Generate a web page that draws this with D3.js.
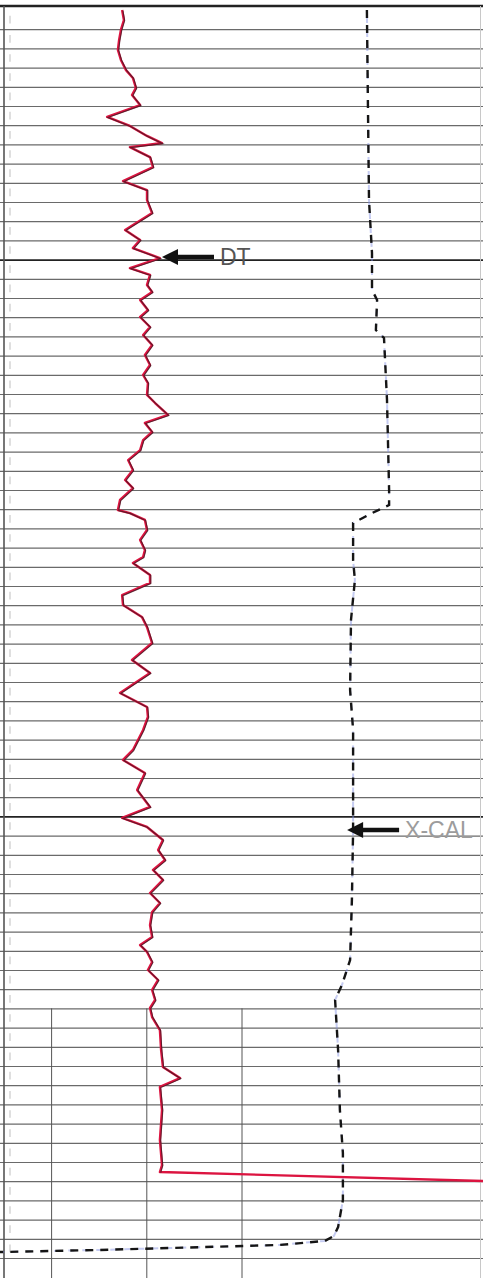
<!DOCTYPE html>
<html>
<head>
<meta charset="utf-8">
<script src="https://cdn.jsdelivr.net/npm/d3@7"></script>
<style>
  html, body { margin: 0; padding: 0; background: #fff; }
  svg { display: block; }
</style>
</head>
<body>
<div id="log"></div>
<script>
// depth grid (ft), one line every 10 ft, heavier lines at two marker depths
const gridDepths = d3.range(5010, 5651, 10)
const majorDepths = [5130, 5420]
const lowerGridTicks = [1, 3, 5]   // track divisions drawn only in the lowest interval
const lowerGridTop = 5520

// sonic (DT, us/ft)
const dtDepth = [5000, 5005.2, 5010.4, 5015.6, 5020.8, 5026.0, 5031.3, 5035.4, 5040.6, 5044.3,
  5049.5, 5055.7, 5060.4, 5065.6, 5069.3, 5071.4, 5076.6, 5081.8, 5089.1, 5093.8,
  5099.0, 5105.7, 5114.6, 5119.8, 5124.0, 5129.2, 5134.4, 5138.0, 5143.2, 5146.9,
  5151.0, 5156.3, 5159.9, 5165.1, 5169.3, 5174.5, 5179.7, 5184.9, 5190.1, 5194.3,
  5200.5, 5204.7, 5210.9, 5215.1, 5219.8, 5224.0, 5229.2, 5234.4, 5239.6, 5244.8,
  5249.0, 5255.2, 5260.4, 5262.0, 5265.6, 5270.8, 5276.0, 5281.3, 5284.9, 5288.0,
  5294.3, 5298.4, 5304.7, 5309.9, 5316.1, 5321.4, 5329.7, 5338.5, 5345.3, 5355.7,
  5363.0, 5368.2, 5375.0, 5385.4, 5390.6, 5397.4, 5406.3, 5415.1, 5420.8, 5425.5,
  5432.3, 5437.5, 5442.7, 5447.9, 5453.1, 5459.9, 5465.1, 5469.8, 5476.6, 5482.8,
  5487.0, 5490.6, 5495.8, 5500.0, 5505.2, 5510.4, 5515.6, 5519.8, 5524.5, 5531.3,
  5541.7, 5550.5, 5556.3, 5560.9, 5572.9, 5588.5, 5601.6, 5605.2, 5609.9]
const dtValues = [120.3, 119.7, 120.7, 121.3, 121.7, 120.7, 119.0, 116.7, 115.7, 117.0,
  114.3, 125.3, 117.7, 112.0, 107.0, 117.7, 111.0, 110.0, 120.0, 112.0,
  112.0, 110.3, 119.3, 114.3, 116.7, 107.7, 117.7, 111.0, 112.0, 110.3,
  114.3, 111.7, 114.3, 111.0, 113.3, 110.3, 112.7, 111.0, 113.3, 111.7,
  112.0, 109.3, 105.0, 112.7, 110.3, 113.3, 114.3, 118.3, 116.7, 119.3,
  116.7, 121.0, 121.7, 117.7, 112.7, 112.0, 114.3, 112.7, 113.3, 116.7,
  111.0, 111.0, 120.3, 120.0, 113.7, 112.0, 110.3, 117.0, 111.0, 121.0,
  112.0, 111.7, 113.3, 116.7, 120.0, 112.7, 115.3, 111.0, 120.3, 112.0,
  106.7, 108.3, 106.0, 110.0, 106.7, 111.0, 107.7, 110.3, 111.0, 110.3,
  114.3, 112.0, 110.3, 111.7, 108.3, 110.3, 109.3, 111.0, 110.3, 107.7,
  107.3, 106.7, 101.0, 107.7, 107.0, 107.7, 107.0, 107.7, 0]

// caliper (in)
const calDepth = [5000, 5057.3, 5099.0, 5126.6, 5145.8, 5151.0, 5166.7, 5170.8, 5203.1, 5250.0,
  5257.8, 5262.0, 5267.2, 5286.5, 5296.9, 5317.7, 5354.2, 5375.0, 5427.1, 5463.5,
  5494.8, 5507.8, 5515.6, 5541.7, 5572.9, 5595.3, 5619.8, 5633.9, 5638.5, 5641.1,
  5643.2, 5645.8, 5646.9]
const calValues = [18.23, 18.27, 18.3, 18.4, 18.4, 18.57, 18.53, 18.8, 18.9, 18.97,
  18.97, 18.4, 17.77, 17.77, 17.83, 17.7, 17.67, 17.77, 17.77, 17.73,
  17.67, 17.4, 17.17, 17.27, 17.33, 17.43, 17.43, 17.27, 17.13, 16.83,
  15.33, 9.33, 6.0]

const curveNames = ['DT', 'X-CAL']
const curveLabelDepth = [5128.6, 5427.1]
const curveLabelValue = [107.0, 17.57]

const width = 483
const height = 1278

const svg = d3.select('#log').append('svg')
    .attr('width', width)
    .attr('height', height)

const yScale = d3.scaleLinear().domain([5000, 5650]).range([10, 1258])
const dtScale = d3.scaleLinear().domain([161, 0]).range([0, 483])
const calScale = d3.scaleLinear().domain([6, 22]).range([0, 480])
const trackScale = d3.scaleLinear().domain([0, 10]).range([4, 480])

// faint left-edge depth marks
svg.append('g')
    .selectAll('line')
    .data(gridDepths)
    .enter()
    .append('line')
    .attr('x1', 10).attr('x2', 10)
    .attr('y1', d => yScale(d - 7))
    .attr('y2', d => yScale(d - 3))
    .style('stroke', '#d4d4d4')
    .style('stroke-width', 1.5)

// horizontal depth lines via an axis
const gridAxis = d3.axisRight(yScale)
    .tickValues(gridDepths)
    .tickSize(width)
    .tickFormat('')
const grid = svg.append('g').call(gridAxis)
grid.select('.domain').remove()
grid.selectAll('.tick line')
    .style('stroke', d => majorDepths.includes(d) ? '#222' : '#6a6a6a')
    .style('stroke-width', d => majorDepths.includes(d) ? 1.6 : 1.2)

// vertical divisions in the bottom interval
svg.append('g')
    .selectAll('line')
    .data(lowerGridTicks)
    .enter()
    .append('line')
    .attr('x1', d => trackScale(d)).attr('x2', d => trackScale(d))
    .attr('y1', yScale(lowerGridTop)).attr('y2', height)
    .style('stroke', '#555')
    .style('stroke-width', 1)

// borders
svg.append('line').attr('x1', 0).attr('x2', width).attr('y1', 6).attr('y2', 6)
    .style('stroke', '#222').style('stroke-width', 2.5)
svg.append('line').attr('x1', 4).attr('x2', 4).attr('y1', 6).attr('y2', height)
    .style('stroke', '#555').style('stroke-width', 1.6)
svg.append('line').attr('x1', 480.5).attr('x2', 480.5).attr('y1', 6).attr('y2', height)
    .style('stroke', '#c8c8c8').style('stroke-width', 1)

// caliper
const calPts = calDepth.map((d, i) => [calValues[i], d])
const calLine = d3.line().x(d => calScale(d[0])).y(d => yScale(d[1]))
svg.append('path')
    .datum(calPts)
    .attr('d', calLine)
    .style('fill', 'none')
    .style('stroke', '#7f8ce0')
    .style('stroke-width', 2)
    .style('stroke-dasharray', '6,8')
    .style('stroke-dashoffset', 7)
    .style('opacity', 0.45)
svg.append('path')
    .datum(calPts)
    .attr('d', calLine)
    .style('fill', 'none')
    .style('stroke', '#151515')
    .style('stroke-width', 2.4)
    .style('stroke-dasharray', '8,7')

// DT
const dtPts = dtDepth.map((d, i) => [dtValues[i], d])
const dtLine = d3.line().x(d => dtScale(d[0])).y(d => yScale(d[1]))
svg.append('path')
    .datum(dtPts)
    .attr('d', dtLine)
    .style('fill', 'none')
    .style('stroke', '#dc1440')
    .style('stroke-width', 2.4)
    .style('stroke-linejoin', 'round')
svg.append('path')
    .datum(dtPts.filter(d => d[1] < 5606))
    .attr('d', dtLine)
    .attr('transform', 'translate(0.8,0.6)')
    .style('fill', 'none')
    .style('stroke', '#3a1820')
    .style('stroke-width', 1.1)
    .style('opacity', 0.75)

// curve labels with arrows
const tipX = [dtScale(curveLabelValue[0]), calScale(curveLabelValue[1])]
const labelFill = ['#555', '#9c9c9c']
curveNames.forEach((name, i) => {
    const tx = tipX[i]
    const ty = yScale(curveLabelDepth[i])
    const g = svg.append('g')
    g.append('line')
        .attr('x1', tx + 12).attr('x2', tx + 52)
        .attr('y1', ty).attr('y2', ty)
        .style('stroke', '#111')
        .style('stroke-width', 4.5)
    g.append('path')
        .attr('d', `M${tx},${ty} L${tx + 16},${ty - 8} L${tx + 16},${ty + 8} Z`)
        .style('fill', '#111')
    g.append('text')
        .attr('x', tx + 58)
        .attr('y', ty + 8)
        .style('font-family', '"Liberation Sans", Arial, sans-serif')
        .style('font-size', '23px')
        .style('fill', labelFill[i])
        .text(name)
})
</script>
</body>
</html>
